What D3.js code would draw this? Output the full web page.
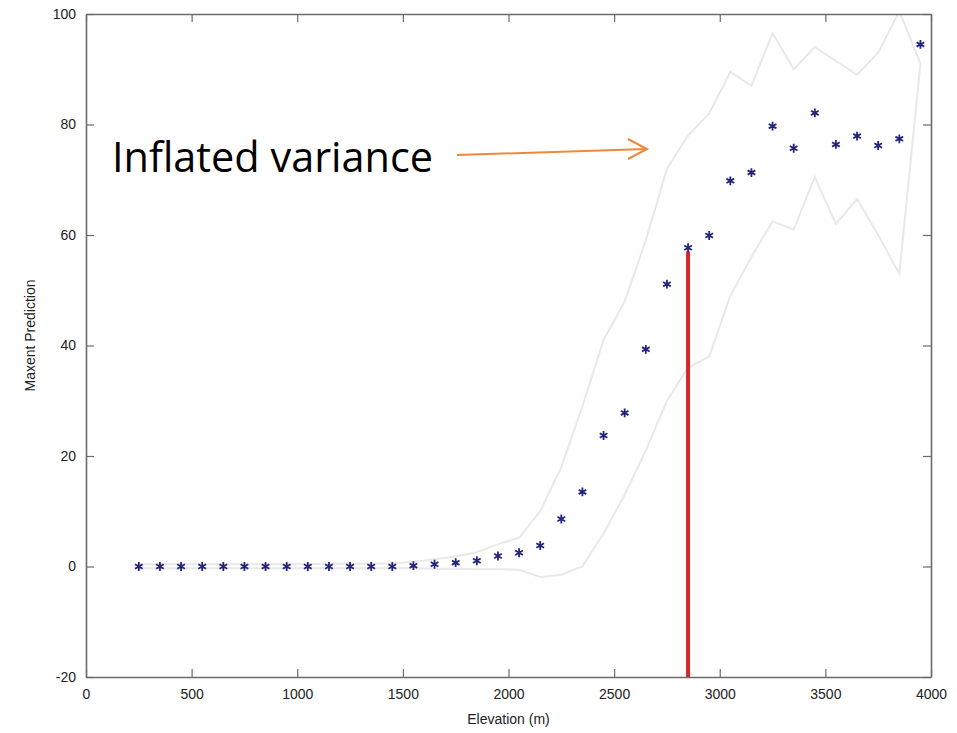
<!DOCTYPE html>
<html>
<head>
<meta charset="utf-8">
<script src="https://cdn.jsdelivr.net/npm/d3@7"></script>
<style>
  body { margin: 0; background: #fff; }
  svg text { font-family: "Liberation Sans", Arial, sans-serif; }
</style>
</head>
<body>
<div id="chart"></div>
<script>
// elevation bins (m) and maxent prediction (%)
const elevation = [250, 350, 450, 550, 650, 750, 850, 950, 1050, 1150, 1250, 1350, 1450,
  1550, 1650, 1750, 1850, 1950, 2050, 2150, 2250, 2350, 2450, 2550, 2650, 2750, 2850,
  2950, 3050, 3150, 3250, 3350, 3450, 3550, 3650, 3750, 3850, 3950];
const prediction = [0, 0, 0, 0, 0, 0, 0, 0, 0, 0, 0, 0, 0,
  0.15, 0.4, 0.7, 1.05, 1.9, 2.5, 3.8, 8.6, 13.5, 23.7, 27.8, 39.3, 51.1, 57.7,
  59.9, 69.8, 71.3, 79.7, 75.7, 82.1, 76.4, 77.9, 76.2, 77.4, 94.5];
const upperBand = [0.4, 0.4, 0.4, 0.4, 0.4, 0.4, 0.4, 0.4, 0.4, 0.5, 0.5, 0.5, 0.6,
  0.8, 1.3, 1.8, 2.6, 4, 5.2, 10, 18, 29, 41, 48, 59, 72, 78,
  82, 89.5, 87, 96.5, 90, 94, 91.5, 89, 93, 100.5, 91];
const lowerBand = [-0.3, -0.3, -0.3, -0.3, -0.3, -0.3, -0.3, -0.3, -0.3, -0.3, -0.3, -0.3, -0.3,
  -0.3, -0.4, -0.4, -0.5, -0.5, -0.6, -1.9, -1.5, 0, 6, 13, 21, 30, 36,
  38, 49, 56, 62.5, 61, 70.5, 62, 66.5, 60, 53, 91];
const xTicks = [0, 500, 1000, 1500, 2000, 2500, 3000, 3500, 4000];
const yTicks = [-20, 0, 20, 40, 60, 80, 100];
const threshold = {elevation: 2850, value: 57};

const width = 957, height = 733;
const margin = {top: 14, right: 26, bottom: 56, left: 86};
const innerW = width - margin.left - margin.right,
  innerH = height - margin.top - margin.bottom;

let x = d3.scaleLinear().domain([0, 4000]).range([0, innerW]);
let y = d3.scaleLinear().domain([-20, 100]).range([innerH, 0]);
const plain = d => String(d);

let svg = d3.select("#chart").append("svg")
  .attr("width", width)
  .attr("height", height);

svg.append("defs").append("clipPath")
  .attr("id", "plotclip")
  .append("rect")
  .attr("width", innerW)
  .attr("height", innerH);

let g = svg.append("g")
  .attr("transform", "translate(" + margin.left + "," + margin.top + ")");

// confidence band lines
let line = d3.line()
  .x((d, i) => x(elevation[i]))
  .y(d => y(d));

let bands = g.append("g").attr("clip-path", "url(#plotclip)");
[upperBand, lowerBand].forEach(function (band) {
  bands.append("path")
    .datum(band)
    .attr("d", line)
    .attr("fill", "none")
    .attr("stroke", "#e8e8e8")
    .attr("stroke-width", 2);
});

// threshold line
g.append("line")
  .attr("x1", x(threshold.elevation))
  .attr("x2", x(threshold.elevation))
  .attr("y1", y(-20))
  .attr("y2", y(threshold.value))
  .attr("stroke", "#d8252c")
  .attr("stroke-width", 4);

// asterisk markers
let star = d3.symbol().type(d3.symbolAsterisk).size(55);
g.append("g").selectAll("path")
  .data(prediction)
  .join("path")
  .attr("transform", (d, i) => "translate(" + x(elevation[i]) + "," + y(d) + ")")
  .attr("d", star)
  .attr("fill", "none")
  .attr("stroke", "#23237e")
  .attr("stroke-width", 1.8);

// axes: box with inward ticks on all sides
const axisColor = "#6b6b6b";
let xBottom = g.append("g")
  .attr("transform", "translate(0," + innerH + ")")
  .call(d3.axisBottom(x).tickValues(xTicks).tickFormat(plain)
    .tickSizeInner(-8).tickSizeOuter(0).tickPadding(12));
let xTop = g.append("g")
  .call(d3.axisTop(x).tickValues(xTicks).tickSizeInner(-8).tickSizeOuter(0).tickFormat(""));
let yLeft = g.append("g")
  .call(d3.axisLeft(y).tickValues(yTicks).tickFormat(plain)
    .tickSizeInner(-8).tickSizeOuter(0).tickPadding(10));
let yRight = g.append("g")
  .attr("transform", "translate(" + innerW + ",0)")
  .call(d3.axisRight(y).tickValues(yTicks).tickSizeInner(-8).tickSizeOuter(0).tickFormat(""));

[xBottom, xTop, yLeft, yRight].forEach(function (ax) {
  ax.select(".domain").attr("stroke", axisColor).attr("stroke-width", 1.6);
  ax.selectAll(".tick line").attr("stroke", axisColor).attr("stroke-width", 1.2);
  ax.selectAll(".tick text")
    .attr("fill", "#222")
    .style("font-size", "14px")
    .style("font-family", "'Liberation Sans', Arial, sans-serif");
});

// axis labels
svg.append("text")
  .attr("x", margin.left + innerW / 2)
  .attr("y", 724)
  .attr("text-anchor", "middle")
  .attr("fill", "#222")
  .style("font-size", "14px")
  .text("Elevation (m)");

svg.append("text")
  .attr("transform", "translate(35," + (margin.top + innerH / 2 - 10) + ") rotate(-90)")
  .attr("text-anchor", "middle")
  .attr("fill", "#222")
  .style("font-size", "14px")
  .text("Maxent Prediction");

// annotation
svg.append("text")
  .attr("x", 112)
  .attr("y", 172)
  .attr("fill", "#000")
  .attr("textLength", 321)
  .attr("lengthAdjust", "spacingAndGlyphs")
  .style("font-family", "'Open Sans', 'Liberation Sans', sans-serif")
  .style("font-size", "42px")
  .text("Inflated variance");

const arrowColor = "#f0883a";
svg.append("line")
  .attr("x1", 457).attr("y1", 155)
  .attr("x2", 646).attr("y2", 149)
  .attr("stroke", arrowColor)
  .attr("stroke-width", 2);
svg.append("path")
  .attr("d", "M628,139 L647,149 L628,159")
  .attr("fill", "none")
  .attr("stroke", arrowColor)
  .attr("stroke-width", 2);
</script>
</body>
</html>
